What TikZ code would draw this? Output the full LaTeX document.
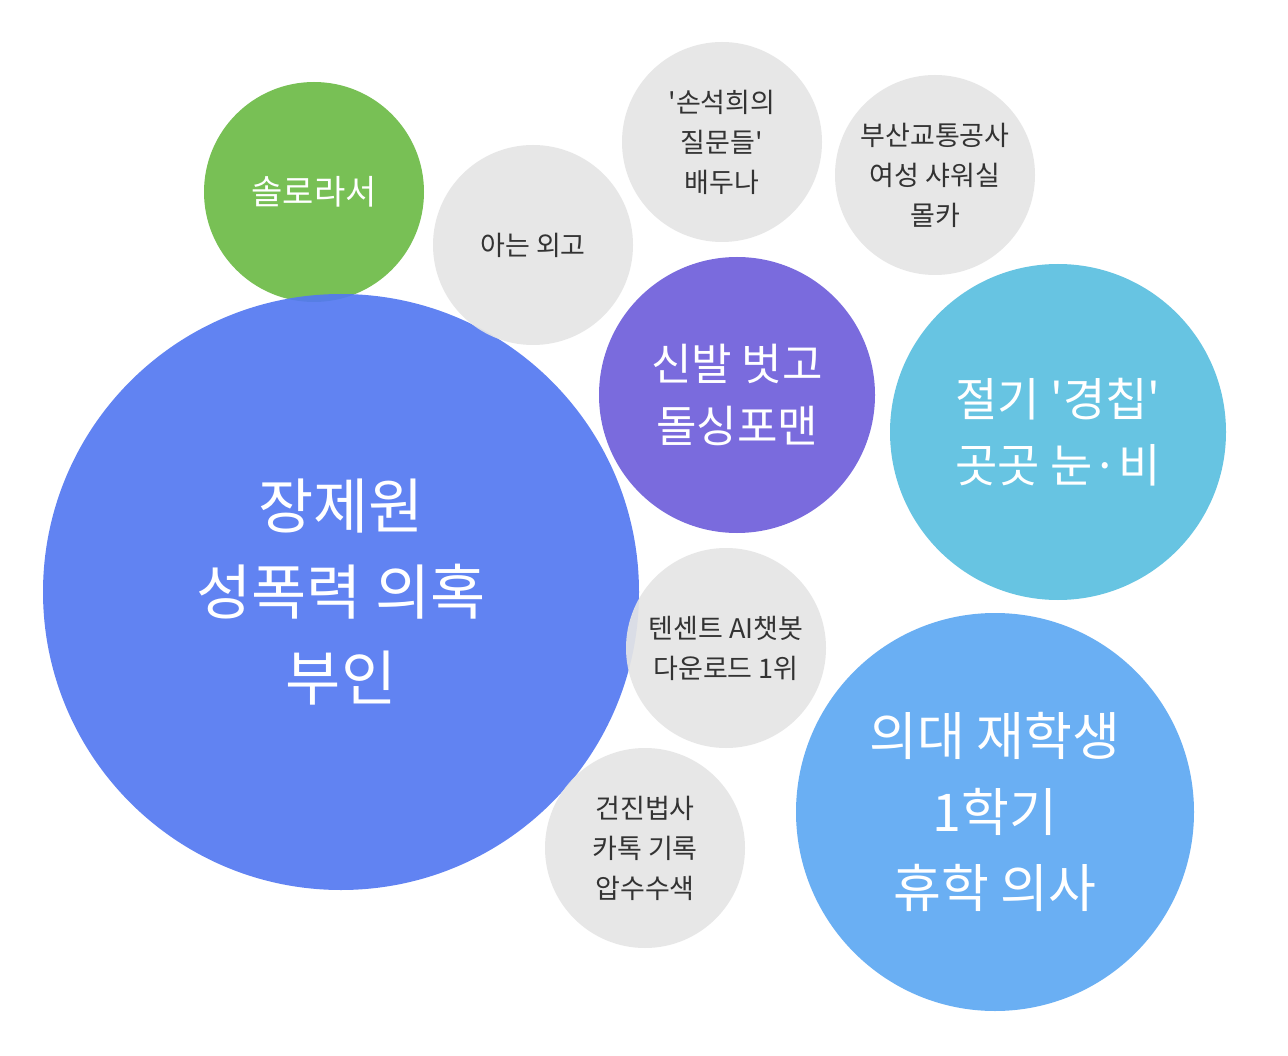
\documentclass[tikz,border=0pt]{standalone}
\usepackage{fontspec}
\newfontfamily\kr{Noto Sans CJK KR}
\definecolor{cgreen}{HTML}{6DBB47}
\definecolor{cblue}{HTML}{5479F1}
\definecolor{cgray}{HTML}{E5E5E5}
\definecolor{cpurple}{HTML}{6F5FDB}
\definecolor{ccyan}{HTML}{5BC0E0}
\definecolor{csky}{HTML}{5EA9F2}
\definecolor{ctext}{HTML}{333333}
\tikzset{
  bub/.style={circle,inner sep=0pt,align=center,fill opacity=0.92,text opacity=1},
  wt/.style={text=white},
  gt/.style={text=ctext,fill=cgray,font=\kr\fontsize{27}{40}\selectfont},
}
\begin{document}
\begin{tikzpicture}[x=1pt,y=-1pt]
\useasboundingbox (0,0) rectangle (1288,1056);
\fill[white] (0,0) rectangle (1288,1056);
\node[bub,wt,fill=cgreen,minimum size=220,font=\kr\fontsize{34}{44}\selectfont] (g) at (314,192) {솔로라서};
\node[bub,wt,fill=cblue,minimum size=596,font=\kr\fontsize{60}{86}\selectfont] (b) at (341,592) {장제원\\성폭력 의혹\\부인};
\node[bub,gt,minimum size=200] (a) at (533,245) {아는 외고};
\node[bub,gt,minimum size=200] (s) at (722,142) {'손석희의\\질문들'\\배두나};
\node[bub,gt,minimum size=200] (p) at (935,175) {부산교통공사\\여성 샤워실\\몰카};
\node[bub,wt,fill=cpurple,minimum size=276,font=\kr\fontsize{44}{62}\selectfont] (d) at (737,395) {신발 벗고\\돌싱포맨};
\node[bub,wt,fill=ccyan,minimum size=336,font=\kr\fontsize{46}{66}\selectfont] (c) at (1058,432) {절기 '경칩'\\곳곳 눈·비};
\node[bub,gt,minimum size=200] (t) at (726,648) {텐센트 AI챗봇\\다운로드 1위};
\node[bub,gt,minimum size=200] (k) at (645,848) {건진법사\\카톡 기록\\압수수색};
\node[bub,wt,fill=csky,minimum size=398,font=\kr\fontsize{52}{76}\selectfont] (m) at (995,812) {의대 재학생\\1학기\\휴학 의사};
\end{tikzpicture}
\end{document}
